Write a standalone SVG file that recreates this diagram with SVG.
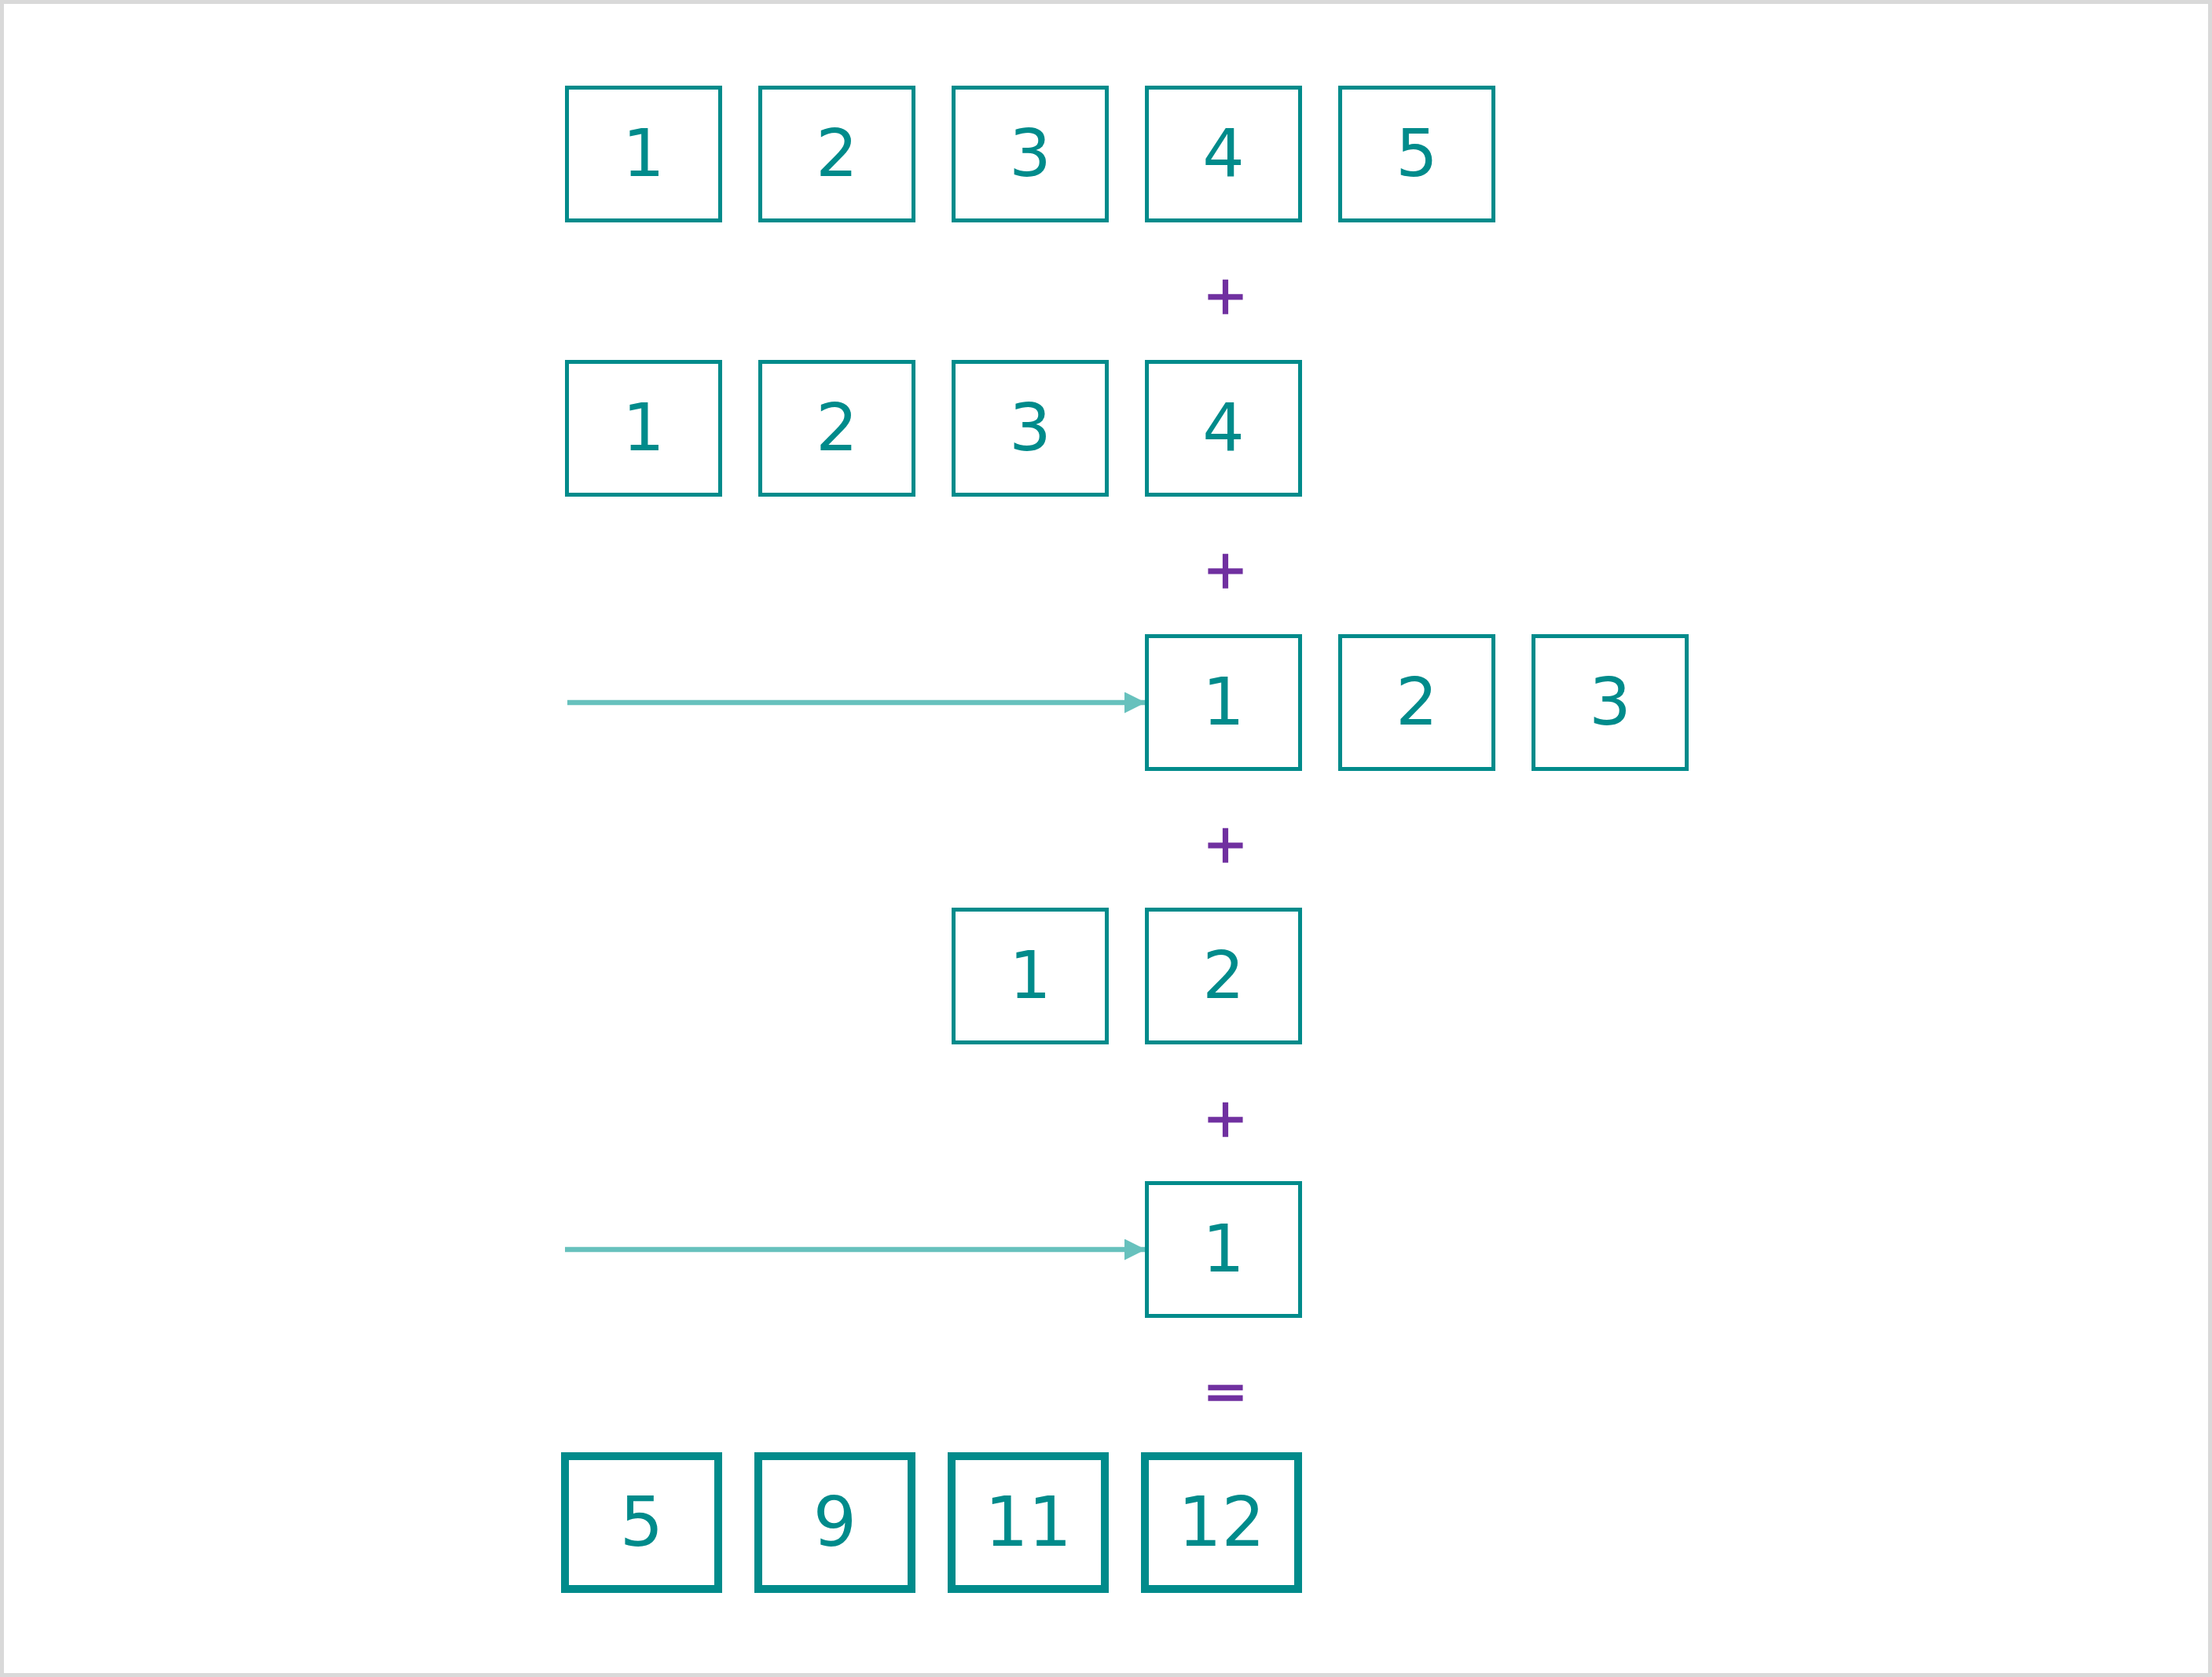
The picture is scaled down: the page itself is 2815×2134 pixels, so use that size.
<svg xmlns="http://www.w3.org/2000/svg" width="2815" height="2134" viewBox="0 0 2815 2134">
<defs>
<style>
.frame{fill:#ffffff;stroke:#d9d9d9;stroke-width:5}
.cell{fill:#ffffff;stroke:#008b8b;stroke-width:5}
.cellb{fill:#ffffff;stroke:#008b8b;stroke-width:10}
.num{font-family:"DejaVu Sans","Verdana",sans-serif;font-size:84px;fill:#008b8b;text-anchor:middle}
.numb{font-family:"DejaVu Sans","Verdana",sans-serif;font-size:87px;fill:#008b8b;text-anchor:middle}
.op{font-family:"DejaVu Sans","Verdana",sans-serif;font-size:68px;fill:#7030a0;stroke:#7030a0;stroke-width:1.6;text-anchor:middle}
.conn{stroke:#67c1bd;stroke-width:6.5;fill:none}
</style>
<marker id="arrow" markerUnits="userSpaceOnUse" viewBox="0 0 27 27" refX="27" refY="13.5" markerWidth="27" markerHeight="27" orient="auto">
<path d="M0,0 L27,13.5 L0,27 Z" fill="#67c1bd"/>
</marker>
</defs>
<rect class="frame" x="2.5" y="2.5" width="2810" height="2129"/>

<g id="connectors">
<line class="conn" x1="722" y1="894" x2="1458" y2="894" marker-end="url(#arrow)"/>
<line class="conn" x1="719" y1="1590" x2="1458" y2="1590" marker-end="url(#arrow)"/>
</g>

<g id="row1">
<g id="r1c1"><rect class="cell" x="721.5" y="111.5" width="195" height="169"/><text class="num" x="819" y="224">1</text></g>
<g id="r1c2"><rect class="cell" x="967.5" y="111.5" width="195" height="169"/><text class="num" x="1065" y="224">2</text></g>
<g id="r1c3"><rect class="cell" x="1213.5" y="111.5" width="195" height="169"/><text class="num" x="1311" y="224">3</text></g>
<g id="r1c4"><rect class="cell" x="1459.5" y="111.5" width="195" height="169"/><text class="num" x="1557" y="224">4</text></g>
<g id="r1c5"><rect class="cell" x="1705.5" y="111.5" width="195" height="169"/><text class="num" x="1803" y="224">5</text></g>
</g>
<g id="op1"><text class="op" x="1559.5" y="399">+</text></g>

<g id="row2">
<g id="r2c1"><rect class="cell" x="721.5" y="460.5" width="195" height="169"/><text class="num" x="819" y="573">1</text></g>
<g id="r2c2"><rect class="cell" x="967.5" y="460.5" width="195" height="169"/><text class="num" x="1065" y="573">2</text></g>
<g id="r2c3"><rect class="cell" x="1213.5" y="460.5" width="195" height="169"/><text class="num" x="1311" y="573">3</text></g>
<g id="r2c4"><rect class="cell" x="1459.5" y="460.5" width="195" height="169"/><text class="num" x="1557" y="573">4</text></g>
</g>
<g id="op2"><text class="op" x="1559.5" y="748">+</text></g>

<g id="row3">
<g id="r3c4"><rect class="cell" x="1459.5" y="809.5" width="195" height="169"/><text class="num" x="1557" y="922">1</text></g>
<g id="r3c5"><rect class="cell" x="1705.5" y="809.5" width="195" height="169"/><text class="num" x="1803" y="922">2</text></g>
<g id="r3c6"><rect class="cell" x="1951.5" y="809.5" width="195" height="169"/><text class="num" x="2049" y="922">3</text></g>
</g>
<g id="op3"><text class="op" x="1559.5" y="1097">+</text></g>

<g id="row4">
<g id="r4c3"><rect class="cell" x="1213.5" y="1157.5" width="195" height="169"/><text class="num" x="1311" y="1270">1</text></g>
<g id="r4c4"><rect class="cell" x="1459.5" y="1157.5" width="195" height="169"/><text class="num" x="1557" y="1270">2</text></g>
</g>
<g id="op4"><text class="op" x="1559.5" y="1446">+</text></g>

<g id="row5">
<g id="r5c4"><rect class="cell" x="1459.5" y="1505.5" width="195" height="169"/><text class="num" x="1557" y="1618">1</text></g>
</g>
<g id="op5"><text class="op" x="1559.5" y="1794">=</text></g>

<g id="row6">
<g id="r6c1"><rect class="cellb" x="719" y="1853" width="195" height="169"/><text class="numb" x="816.5" y="1967">5</text></g>
<g id="r6c2"><rect class="cellb" x="965" y="1853" width="195" height="169"/><text class="numb" x="1062.5" y="1967">9</text></g>
<g id="r6c3"><rect class="cellb" x="1211" y="1853" width="195" height="169"/><text class="numb" x="1308.5" y="1967">11</text></g>
<g id="r6c4"><rect class="cellb" x="1457" y="1853" width="195" height="169"/><text class="numb" x="1554.5" y="1967">12</text></g>
</g>
</svg>
